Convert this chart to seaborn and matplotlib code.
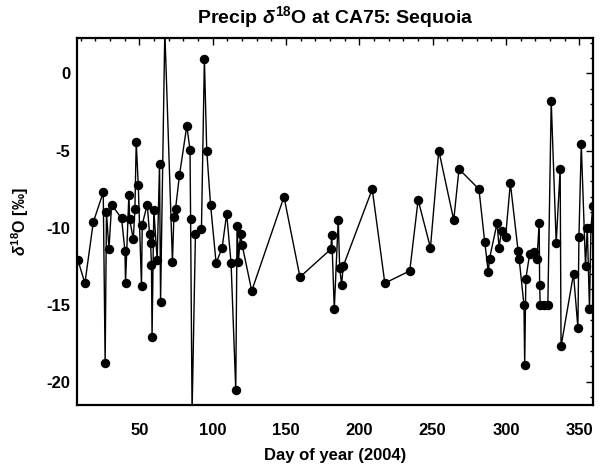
import matplotlib
matplotlib.use("Agg")
import matplotlib.pyplot as plt
from matplotlib.ticker import MultipleLocator
import seaborn as sns
import pandas as pd

day = [8.0, 12.8, 18.5, 25.3, 26.6, 27.5, 29.2, 31.0, 37.8, 40.1, 40.5, 42.8, 43.3,
       45.8, 46.9, 47.8, 49.2, 51.4, 51.9, 55.3, 56.9, 57.6, 58.2, 58.6, 59.8, 62.1,
       63.7, 64.4, 67.3, 72.5, 73.5, 74.6, 77.3, 82.3, 84.5, 84.9, 85.9, 88.2, 92.3,
       94.3, 95.9, 98.5, 102.3, 106.4, 109.5, 112.5, 115.7, 116.6, 117.5, 119.0,
       120.0, 126.6, 148.6, 159.5, 180.5, 181.2, 182.9, 185.6, 186.6, 187.9, 189.0,
       208.8, 217.4, 234.4, 240.1, 248.5, 254.2, 264.4, 268.0, 281.6, 285.5, 288.0,
       288.8, 294.0, 295.3, 297.0, 299.8, 303.0, 308.3, 309.0, 312.3, 312.8, 313.6,
       316.2, 318.9, 321.2, 322.7, 323.0, 323.4, 325.7, 328.6, 330.9, 334.3, 337.0,
       337.6, 346.1, 349.1, 349.8, 351.4, 354.3, 355.5, 357.0, 358.0, 359.3]

d18o = [-12.1, -13.6, -9.65, -7.7, -18.8, -9.0, -11.4, -8.5, -9.4, -11.5, -13.6, -7.85,
        -9.45, -10.75, -8.8, -4.45, -7.25, -13.8, -9.8, -8.5, -10.4, -11.0, -12.4, -17.1,
        -8.85, -12.1, -5.9, -14.85, 2.8, -12.2, -9.3, -8.8, -6.6, -3.4, -4.95, -9.45,
        -22.0, -10.4, -10.1, 0.95, -5.0, -8.5, -12.3, -11.3, -9.1, -12.3, -20.5, -9.9,
        -12.2, -10.4, -11.1, -14.1, -8.0, -13.2, -11.4, -10.5, -15.3, -9.5, -12.6,
        -13.7, -12.5, -7.5, -13.6, -12.8, -8.2, -11.3, -5.0, -9.5, -6.2, -7.5, -10.9,
        -12.9, -12.0, -9.7, -11.3, -10.2, -10.6, -7.1, -11.5, -12.0, -15.0, -18.9,
        -13.3, -11.7, -11.6, -12.0, -9.7, -13.7, -15.0, -15.0, -15.0, -1.8, -11.0,
        -6.2, -17.7, -13.0, -16.5, -10.6, -4.6, -12.5, -10.0, -15.3, -10.0, -8.6]

x_ticks = [50, 100, 150, 200, 250, 300, 350]
y_ticks = [-20, -15, -10, -5, 0]

sns.set_style("white")
plt.rcParams["font.family"] = ["Liberation Sans", "DejaVu Sans"]
plt.rcParams["font.weight"] = "bold"
plt.rcParams["text.color"] = "black"
plt.rcParams["axes.labelcolor"] = "black"
plt.rcParams["xtick.color"] = "black"
plt.rcParams["ytick.color"] = "black"
plt.rcParams["axes.unicode_minus"] = False
plt.rcParams["mathtext.fontset"] = "custom"
plt.rcParams["mathtext.rm"] = "Liberation Sans:bold"
plt.rcParams["mathtext.it"] = "Liberation Sans:italic:bold"
plt.rcParams["mathtext.bf"] = "Liberation Sans:bold"

df = pd.DataFrame({"day": day, "d18o": d18o})

fig = plt.figure(figsize=(6.03, 4.69), dpi=100)
ax = fig.add_axes([77 / 603, 1 - 405 / 469, (593 - 77) / 603, (405 - 38) / 469])

sns.lineplot(data=df, x="day", y="d18o", ax=ax, sort=False, estimator=None,
             color="black", linewidth=1.0, marker="o", markersize=6.8,
             markeredgewidth=0, markerfacecolor="black")

ax.set_xlim(7.4, 359.4)
ax.set_ylim(-21.5, 2.3)
ax.set_xticks(x_ticks)
ax.set_yticks(y_ticks)
ax.xaxis.set_minor_locator(MultipleLocator(10))
ax.yaxis.set_minor_locator(MultipleLocator(1))
ax.tick_params(which="both", direction="in", top=True, right=True,
               color="black", width=1.0)
ax.tick_params(which="major", length=5, labelsize=12, labelcolor="black")
ax.tick_params(which="minor", length=2.5)
ax.tick_params(axis="x", which="major", pad=13)
ax.tick_params(axis="y", which="major", pad=5)
for lab in ax.get_xticklabels() + ax.get_yticklabels():
    lab.set_fontweight("bold")
for sp in ax.spines.values():
    sp.set_linewidth(1.6)
    sp.set_color("black")

ax.set_title(r"Precip $\mathit{\delta}^{18}$O at CA75: Sequoia", fontsize=14,
             fontweight="bold", pad=11, color="black")
ax.set_xlabel("Day of year (2004)", fontsize=12, fontweight="bold", labelpad=7)
ax.set_ylabel(r"$\mathit{\delta}^{18}$O [‰]", fontsize=11.5, fontweight="bold", labelpad=11)

fig.savefig("out.png", dpi=100, facecolor="white")
